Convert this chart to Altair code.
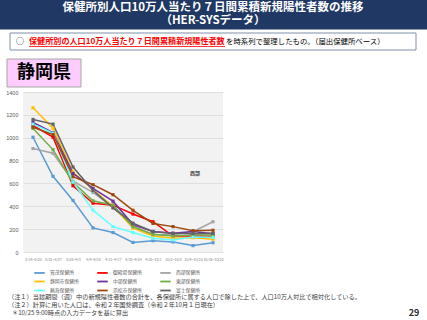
import altair as alt
import pandas as pd

weeks = ["8/14~8/20", "8/21~8/27", "8/28~9/3", "9/4~9/10", "9/11~9/17",
         "9/18~9/24", "9/25~10/1", "10/2~10/8", "10/9~10/15", "10/16~10/22"]
names = ["賀茂保健所", "御殿場保健所", "西部保健所",
         "静岡市保健所", "中部保健所", "東部保健所",
         "熱海保健所", "浜松市保健所", "富士保健所"]
colors = ["#5B9BD5", "#FF0000", "#A5A5A5",
          "#FFC000", "#7030A0", "#70AD47",
          "#66FFFF", "#9E480E", "#636363"]
kamo = [1004, 662, 451, 211, 170, 84, 99, 88, 56, 81]
gotemba = [1107, 1005, 580, 427, 410, 332, 265, 140, 141, 138]
seibu = [905, 864, 620, 521, 390, 230, 150, 150, 178, 265]
shizuokashi = [1262, 1083, 700, 545, 400, 210, 140, 120, 125, 112]
chubu = [1133, 1045, 688, 556, 445, 240, 180, 165, 180, 160]
tobu = [1081, 896, 609, 448, 410, 220, 155, 141, 149, 149]
atami = [1119, 1040, 612, 366, 222, 170, 120, 105, 132, 128]
hamamatsu = [1092, 1028, 659, 589, 501, 365, 250, 222, 187, 190]
fuji = [1160, 1119, 744, 539, 386, 252, 178, 163, 160, 163]
series = [kamo, gotemba, seibu, shizuokashi, chubu, tobu, atami, hamamatsu, fuji]
y_ticks = [0, 200, 400, 600, 800, 1000, 1200, 1400]

title_lines = ["保健所別人口10万人当たり７日間累積新規陽性者数の推移", "（HER-SYSデータ）"]
box_red = "保健所別の人口10万人当たり７日間累積新規陽性者数"
box_black = "を時系列で整理したもの。（届出保健所ベース）"
pref = "静岡県"
note1 = "（注１）当該期間（週）中の新規陽性者数の合計を、各保健所に属する人口で除した上で、人口10万人対比で相対化している。"
note2 = "（注２）計算に用いた人口は、令和２年国勢調査（令和２年10月１日現在）"
note3 = "＊10/25 9:00時点の入力データを基に算出"
page = "29"
annot = "西部"

rows = []
for n, vals in zip(names, series):
    for w, v in zip(weeks, vals):
        rows.append({"hc": n, "week": w, "value": v})
df = pd.DataFrame(rows)
one = pd.DataFrame({"a": [0]})
FONT = "Noto Sans CJK JP"

lines = alt.Chart(df).mark_line(
    strokeWidth=1.5,
    point=alt.OverlayMarkDef(filled=True, size=10, shape="square"),
).encode(
    x=alt.X("week:N", sort=weeks, title=None,
            scale=alt.Scale(paddingOuter=0.5),
            axis=alt.Axis(labelAngle=0, labelFontSize=3.5, labelColor="#808080",
                          labelFont=FONT, ticks=False, domain=False, grid=False,
                          labelPadding=5)),
    y=alt.Y("value:Q", title=None, scale=alt.Scale(domain=[0, 1400], nice=False),
            axis=alt.Axis(values=y_ticks, format="d", labelFontSize=5.5,
                          labelColor="#595959", ticks=False, domain=False,
                          gridColor="#D9D9D9", gridWidth=0.8, labelPadding=5)),
    color=alt.Color("hc:N", sort=names,
                    scale=alt.Scale(domain=names, range=colors),
                    legend=alt.Legend(title=None, orient="none", legendX=12, legendY=176,
                                      direction="horizontal", columns=3,
                                      symbolType="M-1.5,0H1.5", symbolSize=49,
                                      symbolStrokeWidth=1.8, symbolStrokeColor="",
                                      labelFontSize=4.8, labelFont=FONT,
                                      labelColor="#595959", columnPadding=14,
                                      rowPadding=-2, labelOffset=6, gridAlign="all")),
    order=alt.value(0),
)

base = alt.Chart(one)
banner = base.mark_rect(fill="#1F3864").encode(
    x=alt.value(-23), x2=alt.value(404), y=alt.value(-92), y2=alt.value(-62.5))
box = base.mark_rect(fill="white", stroke="#7F8FA9", strokeWidth=1).encode(
    x=alt.value(-13), x2=alt.value(393), y=alt.value(-59), y2=alt.value(-42))
pbox = base.mark_rect(fill="#FFCCFF", stroke="#A6A6A6", strokeWidth=1).encode(
    x=alt.value(-16), x2=alt.value(58), y=alt.value(-33), y2=alt.value(-5))
underline = base.mark_rule(color="#FF0000", strokeWidth=0.8).encode(
    x=alt.value(6), x2=alt.value(202), y=alt.value(-45.5))


def txt(t, x, y, size, color="#000000", weight="normal", align="left"):
    return base.mark_text(text=t, font=FONT, fontSize=size, color=color,
                          fontWeight=weight, align=align, baseline="middle").encode(
        x=alt.value(x), y=alt.value(y))


title = base.mark_text(text=title_lines, font=FONT, fontSize=11.5, color="white",
                       fontWeight="bold", align="center", baseline="top",
                       lineHeight=13.5).encode(x=alt.value(190), y=alt.value(-90.5))

texts = [
    title,
    txt("○", -7, -50.5, 8, "#000000"),
    txt(box_red, 6, -50.5, 8.1, "#FF0000", "bold"),
    txt(box_black, 203, -50.5, 7.4, "#000000"),
    txt(pref, 21, -19, 18, "#000000", "bold", "center"),
    txt(annot, 172, 81, 5, "#404040", "bold", "center"),
    txt(note1, -15, 205, 6.2, "#404040"),
    txt(note2, -15, 213, 6.2, "#404040"),
    txt(note3, -11, 221, 6.2, "#404040"),
    txt(page, 391, 221, 9, "#262626", "bold", "center"),
]

chart = alt.layer(banner, box, pbox, underline, lines, *texts).properties(
    width=200, height=160,
    autosize=alt.AutoSizeParams(type="none"),
    padding={"left": 23, "top": 92, "right": 204, "bottom": 68},
    background="white",
).configure_view(fill="#F2F2F2", strokeWidth=0)

chart.save("out.html", embed_options={"renderer": "svg", "actions": False})
